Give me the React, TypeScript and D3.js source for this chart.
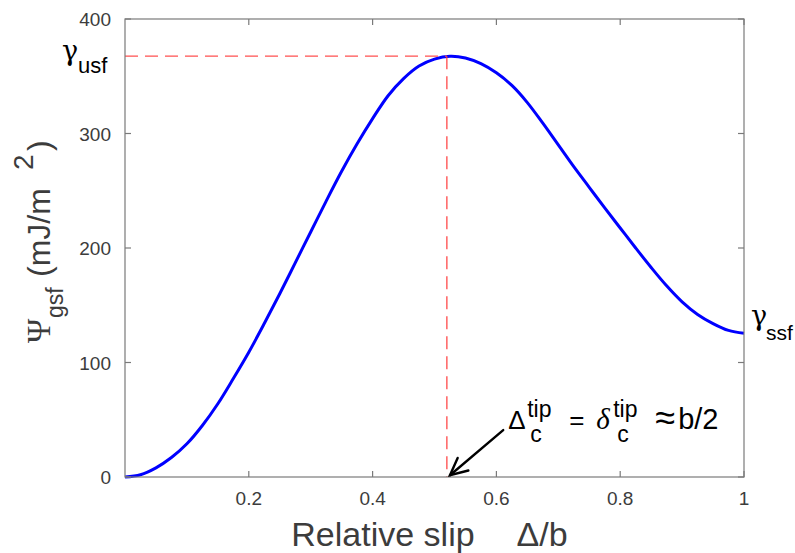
import React from "react";
import * as d3 from "d3";

// generalized stacking fault energy vs relative slip
const slip = [
  0, 0.025, 0.05, 0.075, 0.1, 0.125, 0.15, 0.175, 0.2, 0.225, 0.25, 0.275, 0.3, 0.325,
  0.35, 0.375, 0.4, 0.425, 0.45, 0.475, 0.5, 0.525, 0.55, 0.575, 0.6, 0.625, 0.65,
  0.675, 0.7, 0.725, 0.75, 0.775, 0.8, 0.825, 0.85, 0.875, 0.9, 0.925, 0.95, 0.975, 1,
];
const energy = [
  0, 2, 8, 17, 29, 45, 64, 86, 109, 134, 160, 187, 214, 241, 267, 291, 313, 333, 348,
  359, 365, 367.5, 366, 361, 353, 342, 327, 309, 290, 271, 253, 235, 217.5, 200, 183,
  167, 153, 142, 134, 128, 125.5,
];
const xTicks = [0.2, 0.4, 0.6, 0.8, 1];
const xTickLabels = ["0.2", "0.4", "0.6", "0.8", "1"];
const yTicks = [0, 100, 200, 300, 400];
const yTickLabels = ["0", "100", "200", "300", "400"];

const peakSlip = 0.52;
const gammaUsf = 367.5;
const gammaSsf = 125;
const arrowTail = [0.611, 41];
const arrowTip = [0.525, 1.5];
const noteAt = [0.619, 42];

const sans = "'Liberation Sans', Arial, Helvetica, sans-serif";
const serif = "'Liberation Serif', 'Times New Roman', serif";
const greek = "'DejaVu Serif', serif";

function App() {
  const width = 795;
  const height = 553;
  const margin = { top: 19, right: 51, bottom: 76, left: 125 };

  const x = d3.scaleLinear().domain([0, 1]).range([margin.left, width - margin.right]);
  const y = d3.scaleLinear().domain([0, 400]).range([height - margin.bottom, margin.top]);

  const pts: [number, number][] = slip.map((s, i) => [s, energy[i]]);
  const line = d3
    .line<[number, number]>()
    .x((d) => x(d[0]))
    .y((d) => y(d[1]))
    .curve(d3.curveCatmullRom);

  const axisColor = "#7a7a7a";
  const textColor = "#3c3c3c";
  const tick = 6;
  const x0 = x(0), x1 = x(1), y0 = y(0), y1 = y(400);

  // arrow head
  const tx = x(arrowTip[0]), ty = y(arrowTip[1]);
  const fx = x(arrowTail[0]), fy = y(arrowTail[1]);
  const ang = Math.atan2(ty - fy, tx - fx);
  const head = 19;
  const h1 = [tx - head * Math.cos(ang - 0.45), ty - head * Math.sin(ang - 0.45)];
  const h2 = [tx - head * Math.cos(ang + 0.45), ty - head * Math.sin(ang + 0.45)];

  const nx = x(noteAt[0]), ny = y(noteAt[1]);

  return (
    <svg
      width={width}
      height={height}
      style={{ position: "absolute", left: 0, top: 0, background: "#fff" }}
    >
      {/* curve */}
      <path d={line(pts) || ""} fill="none" stroke="#0000ff" strokeWidth={3} strokeLinejoin="round" />

      {/* dashed guides */}
      <line x1={x0} x2={x(peakSlip)} y1={y(gammaUsf)} y2={y(gammaUsf)} stroke="#ff5050" strokeWidth={1.3} strokeDasharray="13,7" />
      <line x1={x(peakSlip)} x2={x(peakSlip)} y1={y(gammaUsf)} y2={y0} stroke="#ff3a3a" strokeWidth={1.2} strokeDasharray="13,7" />

      {/* axes box */}
      <rect x={x0} y={y1} width={x1 - x0} height={y0 - y1} fill="none" stroke={axisColor} strokeWidth={1.2} />
      {xTicks.map((t) => (
        <g key={"xt" + t}>
          <line x1={x(t)} x2={x(t)} y1={y0} y2={y0 - tick} stroke={axisColor} strokeWidth={1.2} />
          <line x1={x(t)} x2={x(t)} y1={y1} y2={y1 + tick} stroke={axisColor} strokeWidth={1.2} />
        </g>
      ))}
      {yTicks.map((t) => (
        <g key={"yt" + t}>
          <line x1={x0} x2={x0 + tick} y1={y(t)} y2={y(t)} stroke={axisColor} strokeWidth={1.2} />
          <line x1={x1} x2={x1 - tick} y1={y(t)} y2={y(t)} stroke={axisColor} strokeWidth={1.2} />
        </g>
      ))}
      {xTicks.map((t, i) => (
        <text key={"xl" + t} x={x(t)} y={y0 + 28} textAnchor="middle" fontFamily={sans} fontSize={19} fill={textColor}>
          {xTickLabels[i]}
        </text>
      ))}
      {yTicks.map((t, i) => (
        <text key={"yl" + t} x={x0 - 14} y={y(t) + 7} textAnchor="end" fontFamily={sans} fontSize={19} fill={textColor}>
          {yTickLabels[i]}
        </text>
      ))}

      {/* x label */}
      <text x={x(0.5) - 5} y={546} textAnchor="middle" fontFamily={sans} fontSize={34} fill={textColor}>
        Relative slip<tspan dx={42}>Δ/b</tspan>
      </text>

      {/* y label */}
      <g transform={`translate(50,343) rotate(-90)`} fill={textColor}>
        <text x={0} y={0} fontFamily={serif} fontSize={33}>Ψ</text>
        <text x={25} y={13} fontFamily={sans} fontSize={23}>gsf</text>
        <text x={66} y={0} fontFamily={sans} fontSize={32}>(mJ/m</text>
        <text x={173} y={-17} fontFamily={sans} fontSize={28}>2</text>
        <text x={192} y={0} fontFamily={sans} fontSize={32}>)</text>
      </g>

      {/* gamma labels */}
      <g fill="#000">
        <text x={x0 - 63} y={y(gammaUsf) + 4} fontFamily={greek} fontSize={27}>γ</text>
        <text x={x0 - 47} y={y(gammaUsf) + 17} fontFamily={sans} fontSize={22}>usf</text>
        <text x={x1 + 7} y={y(gammaSsf) - 9} fontFamily={greek} fontSize={27}>γ</text>
        <text x={x1 + 22} y={y(gammaSsf) + 6} fontFamily={sans} fontSize={21}>ssf</text>
      </g>

      {/* annotation */}
      <g stroke="#000" strokeWidth={2.4} strokeLinecap="round" fill="none">
        <line x1={fx} y1={fy} x2={tx} y2={ty} />
        <polyline points={`${h1[0]},${h1[1]} ${tx},${ty} ${h2[0]},${h2[1]}`} />
      </g>
      <g transform={`translate(${nx},${ny})`} fill="#000" fontFamily={sans}>
        <text x={0} y={0} fontSize={26}>Δ</text>
        <text x={19} y={-12} fontSize={23}>tip</text>
        <text x={22} y={13} fontSize={23}>c</text>
        <text x={61} y={0} fontSize={26}>=</text>
        <text x={88} y={0} fontSize={29} fontFamily={serif} fontStyle="italic">δ</text>
        <text x={105} y={-12} fontSize={23}>tip</text>
        <text x={109} y={13} fontSize={23}>c</text>
        <text x={147} y={1} fontSize={36}>≈</text>
        <text x={170} y={0} fontSize={29}>b/2</text>
      </g>
    </svg>
  );
}

export default App;
